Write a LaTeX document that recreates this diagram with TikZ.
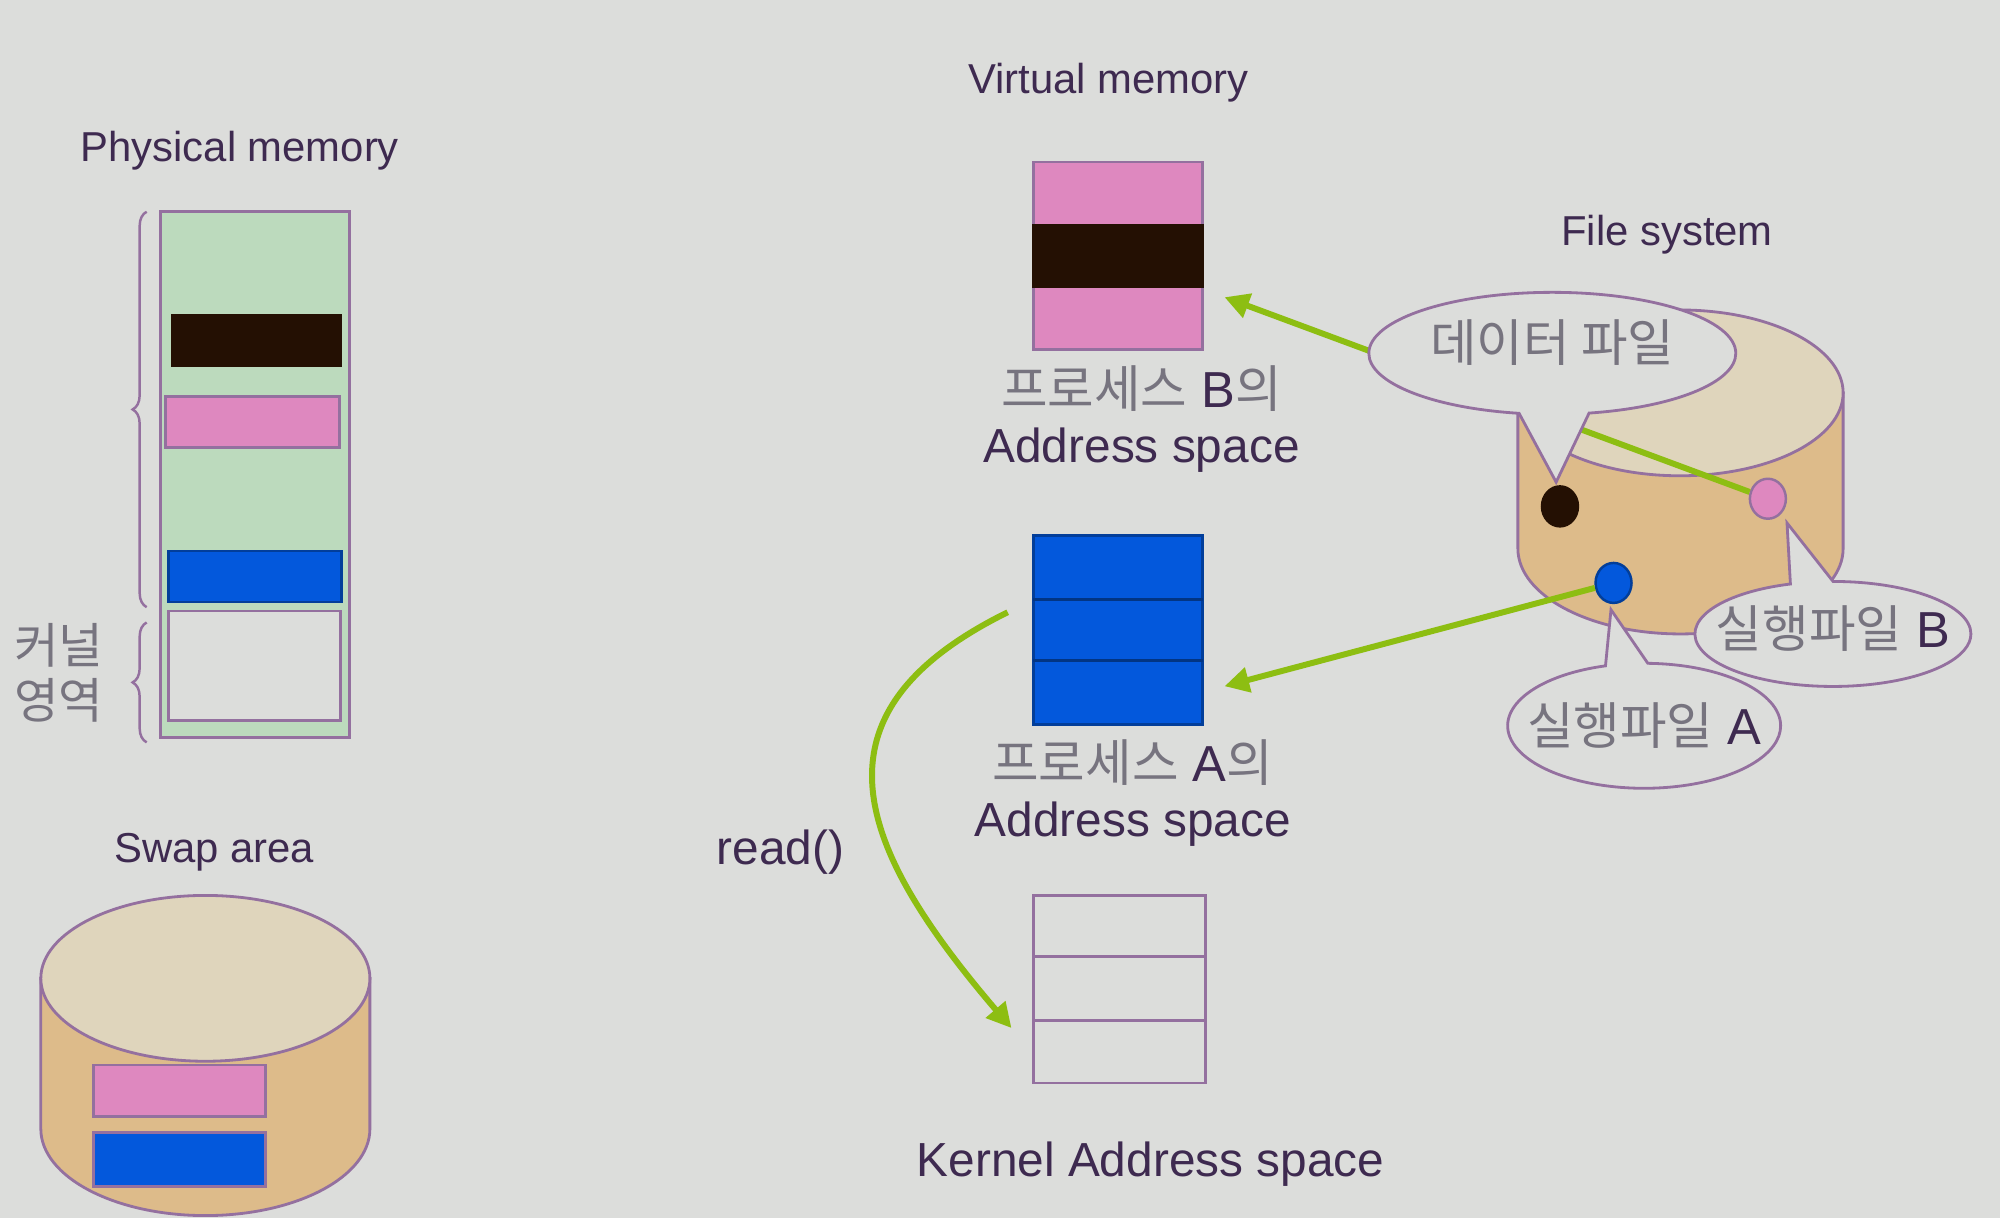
\documentclass[tikz,border=0pt]{standalone}
\usepackage{fontspec}
\setmainfont{Liberation Sans}
\newfontfamily\cjk{Noto Sans CJK KR}
\usetikzlibrary{arrows.meta,shapes.callouts,shapes.geometric,decorations.pathreplacing}
\definecolor{bgcol}{HTML}{DCDDDB}
\definecolor{linecol}{HTML}{94709F}
\definecolor{txtcol}{HTML}{3E2A50}
\definecolor{korcol}{HTML}{77747F}
\definecolor{greencol}{HTML}{BCDABD}
\definecolor{pinkcol}{HTML}{DE88BF}
\definecolor{darkcol}{HTML}{241003}
\definecolor{bluecol}{HTML}{0358DC}
\definecolor{sidecol}{HTML}{DDBB8A}
\definecolor{topcol}{HTML}{DFD5BC}
\definecolor{arrowcol}{HTML}{8DBE12}
\newcommand{\kor}[1]{{\cjk\color{korcol}#1}}
\tikzset{
  title/.style={text=txtcol,font=\fontsize{11.9}{14}\selectfont,inner sep=0pt},
  label/.style={text=txtcol,font=\fontsize{13.6}{16}\selectfont,inner sep=0pt},
  hangul/.style={text=txtcol,font=\fontsize{14.4}{16}\selectfont,inner sep=0pt},
  box/.style={draw=linecol,line width=0.8pt},
  brace/.style={draw=linecol,line width=0.7pt,decorate,decoration={brace,amplitude=4pt}},
  flow/.style={draw=arrowcol,line width=1.7pt,-{Triangle[length=7pt,width=7pt]}},
  dot/.style={ellipse,draw=linecol,line width=0.7pt,inner sep=0pt,minimum width=0.36cm,minimum height=0.4cm},
  bubble/.style={ellipse callout,draw=linecol,fill=bgcol,line width=0.8pt,inner sep=0pt},
}
\begin{document}
\begin{tikzpicture}[x=0.012755cm,y=-0.012755cm]
\useasboundingbox (0,0) rectangle (1568,955);
\fill[bgcol] (0,0) rectangle (1568,955);

% Physical memory
\node[title] (phystitle) at (188,118) {Physical memory};
\draw[box,fill=greencol] (126,166) rectangle (274,578);
\fill[darkcol] (134,246) rectangle (268,288);
\draw[box,fill=pinkcol] (130,311) rectangle (266,351);
\draw[box,draw=bluecol!70!black,fill=bluecol] (132,432) rectangle (268,472);
\draw[box,fill=bgcol] (132,479) rectangle (267,565);
\draw[brace] (115,476) -- (115,166);
\draw[brace] (115,582) -- (115,488);
\node[hangul,font=\fontsize{13.8}{16}\selectfont] (kernelone) at (46,506) {\kor{커널}};
\node[hangul,font=\fontsize{13.8}{16}\selectfont] (kerneltwo) at (46,549) {\kor{영역}};

% Swap area
\node[title] (swaptitle) at (168,668) {Swap area};
\draw[box,fill=sidecol] (32,767) -- (32,885) arc[start angle=180,end angle=0,x radius=129,y radius=68] -- (290,767) -- cycle;
\draw[box,fill=topcol] (161,767) ellipse[x radius=129,y radius=65];
\draw[box,fill=pinkcol] (73,835) rectangle (208,875);
\draw[box,fill=bluecol] (73,888) rectangle (208,930);

% Virtual memory, process B
\node[title] (virttitle) at (869,65) {Virtual memory};
\draw[box,fill=pinkcol] (810,127) rectangle (943,274);
\draw[box,draw=darkcol,fill=darkcol] (810,177) rectangle (943,225);
\node[hangul] (procb) at (895,305) {\kor{프로세스} B\kor{의}};
\node[label] (addrb) at (895,353) {Address space};

% Virtual memory, process A
\draw[box,draw=bluecol!70!black,fill=bluecol] (810,420) rectangle (943,568);
\draw[box,draw=bluecol!60!black] (810,470) -- (943,470);
\draw[box,draw=bluecol!60!black] (810,518) -- (943,518);
\node[hangul] (proca) at (888,598) {\kor{프로세스} A\kor{의}};
\node[label] (addra) at (888,646) {Address space};

% Kernel address space
\draw[box] (810,702) rectangle (945,849);
\draw[box] (810,750) -- (945,750);
\draw[box] (810,800) -- (945,800);
\node[label] (kerneltitle) at (902,913) {Kernel Address space};

% read() call
\node[label] (readcall) at (612,668) {read()};
\coordinate (readstart) at (790,480);
\coordinate (readend) at (793,806);
\draw[flow] (readstart) .. controls (632,558) and (668,660) .. (readend);

% File system
\node[title] (filetitle) at (1307,184) {File system};
\draw[box,fill=sidecol] (1190,308) -- (1190,430) arc[start angle=180,end angle=0,x radius=127.5,y radius=67] -- (1445,308) -- cycle;
\draw[box,fill=topcol] (1317,308) ellipse[x radius=128,y radius=65];
\node[dot,draw=darkcol,fill=darkcol] (darkdot) at (1223,397) {};
\node[dot,fill=pinkcol] (pinkdot) at (1386,391) {};
\node[dot,draw=bluecol!70!black,fill=bluecol] (bluedot) at (1265,457) {};
\coordinate (tipb) at (960,233);
\coordinate (tipa) at (960,538);
\draw[flow] (pinkdot) -- (tipb);
\draw[flow] (bluedot) -- (tipa);
\node[bubble,hangul,minimum width=3.67cm,minimum height=1.22cm,callout pointer arc=22,callout absolute pointer={(1220,378)}] (databubble) at (1217,277) {\makebox[0pt]{\raisebox{7pt}{\kor{데이터 파일}}}};
\node[bubble,hangul,minimum width=2.76cm,minimum height=1.05cm,callout pointer arc=18,callout absolute pointer={(1401,410)}] (exebbubble) at (1437,497) {\makebox[0pt]{\raisebox{4pt}{\kor{실행파일} B}}};
\node[bubble,hangul,minimum width=2.73cm,minimum height=1.25cm,callout pointer arc=18,callout absolute pointer={(1263,478)}] (exeabubble) at (1289,569) {\makebox[0pt]{\kor{실행파일} A}};
\end{tikzpicture}
\end{document}
